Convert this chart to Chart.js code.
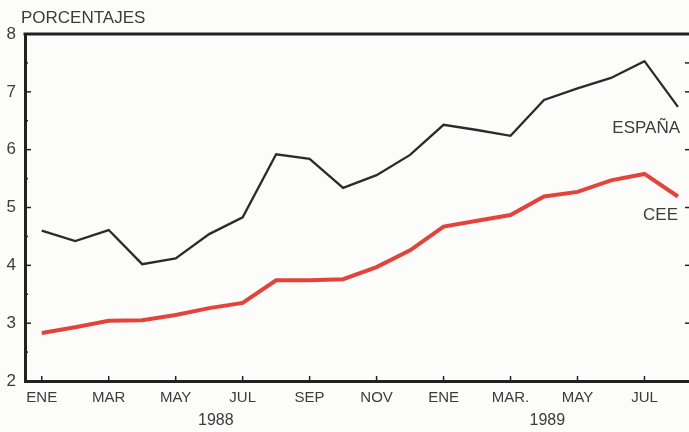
<!DOCTYPE html>
<html><head><meta charset="utf-8">
<script src="https://cdn.jsdelivr.net/npm/chart.js@4"></script>
<style>html,body{margin:0;padding:0;background:#fcfcfb;}#wrap{width:689px;height:432px;}</style>
</head><body><div id="wrap"><canvas id="c" width="689" height="432"></canvas></div>
<script>
const months = ['ENE','FEB','MAR','ABR','MAY','JUN','JUL','AGO','SEP','OCT','NOV','DIC','ENE','FEB','MAR.','ABR','MAY','JUN','JUL','AGO'];
const shownMonths = [0,2,4,6,8,10,12,14,16,18];
const years = [{label:'1988', at:5.2},{label:'1989', at:15.1}];
const espana = [4.60,4.42,4.61,4.02,4.12,4.54,4.83,5.92,5.84,5.34,5.56,5.91,6.43,6.34,6.24,6.86,7.06,7.24,7.53,6.74];
const cee    = [2.83,2.93,3.04,3.05,3.14,3.26,3.35,3.74,3.74,3.76,3.97,4.26,4.67,4.77,4.87,5.19,5.27,5.47,5.58,5.19];
const yTicks = [2,3,4,5,6,7,8];

const txt = '#3c3c3c';
const FONT = '"Liberation Sans", Arial, sans-serif';

const deco = {
  id:'deco',
  afterDraw(chart){
    const {ctx, chartArea:a, scales:{x,y}} = chart;
    ctx.save();
    ctx.strokeStyle = '#222';
    // top border
    ctx.lineWidth = 3;
    ctx.beginPath(); ctx.moveTo(a.left-1.5, a.top); ctx.lineTo(a.right, a.top); ctx.stroke();
    ctx.lineWidth = 1.5;
    // left inward ticks (major & minor)
    for (let v=2; v<=8; v+=0.5){
      const py = y.getPixelForValue(v);
      const len = Number.isInteger(v) ? 6 : 3;
      ctx.beginPath(); ctx.moveTo(a.left, py); ctx.lineTo(a.left+len, py); ctx.stroke();
    }
    // right edge ticks
    for (let v=3; v<=7.5; v+=0.5){
      if (!Number.isInteger(v) && v!==7.5) continue;
      const py = y.getPixelForValue(v);
      ctx.beginPath(); ctx.moveTo(a.right, py); ctx.lineTo(a.right-4, py); ctx.stroke();
    }
    // bottom inward ticks
    shownMonths.forEach(i=>{
      const px = x.getPixelForValue(i);
      ctx.beginPath(); ctx.moveTo(px, a.bottom); ctx.lineTo(px, a.bottom-5); ctx.stroke();
    });
    ctx.fillStyle = txt;
    ctx.textBaseline = 'middle';
    ctx.textAlign = 'left';
    ctx.font = '17px ' + FONT;
    ctx.fillText('PORCENTAJES', 21, 18);
    ctx.textAlign = 'right';
    ctx.fillText('ESPAÑA', 680, 128);
    ctx.fillText('CEE', 678, 215);
    ctx.textAlign = 'center';
    ctx.font = '16px ' + FONT;
    years.forEach(yr=>{
      ctx.fillText(yr.label, x.getPixelForValue(yr.at), 421);
    });
    ctx.restore();
  }
};

new Chart(document.getElementById('c'), {
  type:'line',
  data:{
    datasets:[
      {label:'ESPAÑA', data: espana.map((v,i)=>({x:i,y:v})), borderColor:'#2b2b2b', borderWidth:2.3, pointRadius:0, tension:0},
      {label:'CEE', data: cee.map((v,i)=>({x:i,y:v})), borderColor:'#e4433a', borderWidth:4, pointRadius:0, tension:0}
    ]
  },
  options:{
    responsive:false, animation:false,
    layout:{padding:{top:34,right:0,left:0,bottom:0}},
    plugins:{legend:{display:false}, tooltip:{enabled:false}},
    scales:{
      x:{
        type:'linear', min:-0.5, max:19.33,
        afterBuildTicks(s){ s.ticks = shownMonths.map(v=>({value:v})); },
        afterFit(s){ s.height = 51; },
        grid:{drawOnChartArea:false, drawTicks:false},
        border:{display:true, width:3, color:'#222'},
        ticks:{autoSkip:false, maxRotation:0, padding:8, color:txt, font:{family:FONT, size:15},
          callback:(v)=>months[v]}
      },
      y:{
        min:2, max:8,
        afterBuildTicks(s){ s.ticks = yTicks.map(v=>({value:v})); },
        afterFit(s){ s.width = 25; },
        grid:{drawOnChartArea:false, drawTicks:false},
        border:{display:true, width:3, color:'#222'},
        ticks:{padding:9, color:txt, font:{family:FONT, size:17}}
      }
    }
  },
  plugins:[deco]
});
</script></body></html>
